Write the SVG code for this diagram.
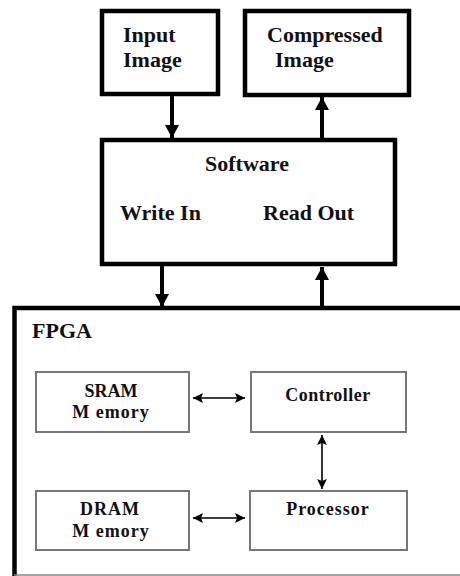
<svg xmlns="http://www.w3.org/2000/svg" width="460" height="576" viewBox="0 0 460 576">
<style>
.thick{fill:#fff;stroke:#000;stroke-width:4.5}
.thin{fill:#fff;stroke:#777;stroke-width:2}
.t{font-family:"Liberation Serif","Times New Roman",serif;font-weight:bold;fill:#111}
.big{font-size:22px}
.sm{font-size:18px}
.c1{stroke:#000;stroke-width:4;fill:none}
.c2{stroke:#000;stroke-width:1.6;fill:none}
</style>
<defs>
<marker id="ah" markerUnits="userSpaceOnUse" markerWidth="15" markerHeight="15" refX="13" refY="7" orient="auto">
<path d="M0,0 L13,7 L0,14 z" fill="#000"/>
</marker>
<marker id="ah2" markerUnits="userSpaceOnUse" markerWidth="11" markerHeight="11" refX="10" refY="5" orient="auto-start-reverse">
<path d="M0,0 L10,5 L0,10 L2,5 z" fill="#000"/>
</marker>
</defs>
<rect width="460" height="576" fill="#fff"/>
<g id="fpga">
<path d="M14.5,576 V308 H460" class="thick" fill="none"/>
<line x1="14" y1="575" x2="460" y2="575" stroke="#888" stroke-width="1.5"/>
<text x="32" y="338" class="t big">FPGA</text>
</g>
<g id="input">
<rect x="102" y="11" width="116" height="83" class="thick"/>
<text x="123" y="42" class="t big">Input</text>
<text x="123" y="67" class="t big">Image</text>
</g>
<g id="compressed">
<rect x="245" y="11" width="164" height="84" class="thick"/>
<text x="267" y="42" class="t big">Compressed</text>
<text x="275" y="67" class="t big">Image</text>
</g>
<g id="software">
<rect x="102" y="140" width="293" height="124" class="thick"/>
<text x="247" y="171" class="t big" text-anchor="middle">Software</text>
<text x="120" y="220" class="t big">Write In</text>
<text x="263" y="220" class="t big">Read Out</text>
</g>
<g id="sram">
<rect x="36" y="372" width="153" height="60" class="thin"/>
<text x="111" y="397" class="t sm" text-anchor="middle">SRAM</text>
<text x="111" y="418" class="t sm" text-anchor="middle" letter-spacing="1">M emory</text>
</g>
<g id="controller">
<rect x="251" y="372" width="155" height="60" class="thin"/>
<text x="328" y="401" class="t sm" text-anchor="middle" letter-spacing="0.5">Controller</text>
</g>
<g id="dram">
<rect x="36" y="491" width="153" height="59" class="thin"/>
<text x="110" y="515" class="t sm" text-anchor="middle" letter-spacing="1">DRAM</text>
<text x="111" y="537" class="t sm" text-anchor="middle" letter-spacing="1">M emory</text>
</g>
<g id="processor">
<rect x="250" y="491" width="157" height="59" class="thin"/>
<text x="328" y="515" class="t sm" text-anchor="middle" letter-spacing="1">Processor</text>
</g>
<g id="connectors">
<line x1="172" y1="95" x2="172" y2="138" class="c1" marker-end="url(#ah)"/>
<line x1="322" y1="138" x2="322" y2="97" class="c1" marker-end="url(#ah)"/>
<line x1="162" y1="265" x2="162" y2="307" class="c1" marker-end="url(#ah)"/>
<line x1="322" y1="307" x2="322" y2="267" class="c1" marker-end="url(#ah)"/>
<line x1="193" y1="398" x2="245" y2="398" class="c2" marker-start="url(#ah2)" marker-end="url(#ah2)"/>
<line x1="193" y1="518" x2="245" y2="518" class="c2" marker-start="url(#ah2)" marker-end="url(#ah2)"/>
<line x1="322" y1="435" x2="322" y2="489" class="c2" marker-start="url(#ah2)" marker-end="url(#ah2)"/>
</g>
</svg>
